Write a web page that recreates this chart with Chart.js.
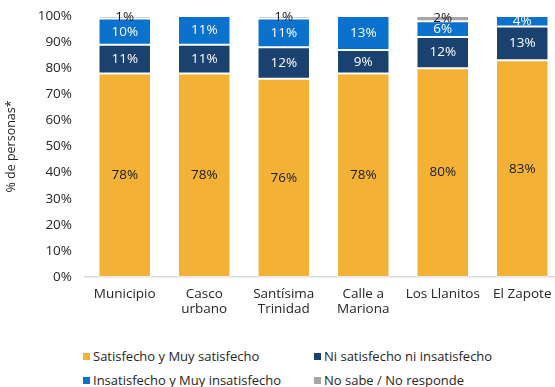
<!DOCTYPE html>
<html>
<head>
<meta charset="utf-8">
<script src="https://cdn.jsdelivr.net/npm/chart.js@4"></script>
<style>
  html, body { margin: 0; padding: 0; background: #fff; overflow: hidden; }
  #wrap { position: relative; width: 555px; height: 387px; overflow: hidden; }
  #chart { position: absolute; left: 0; top: 0; }
  #legend { position: absolute; left: 0; top: 347px; width: 555px; font-family: "Open Sans", sans-serif; font-size: 13px; color: #262626; }
  .item { position: absolute; display: flex; align-items: center; white-space: nowrap; }
  .sw { width: 7px; height: 7px; margin-right: 3px; }
</style>
</head>
<body>
<div id="wrap">
  <canvas id="chart" width="562" height="330" style="width:562px;height:330px"></canvas>
  <div id="legend"></div>
</div>
<script>
const categories = ["Municipio", ["Casco", "urbano"], ["Santísima", "Trinidad"], ["Calle a", "Mariona"], "Los Llanitos", "El Zapote"];
const satisfecho    = [78, 78, 76, 78, 80, 83];
const niNi          = [11, 11, 12, 9, 12, 13];
const insatisfecho  = [10, 11, 11, 13, 6, 4];
const noSabe        = [1, 0, 1, 0, 2, 0];
const yTicks = [0, 10, 20, 30, 40, 50, 60, 70, 80, 90, 100];

const seriesNames = ["Satisfecho y Muy satisfecho", "Ni satisfecho ni insatisfecho", "Insatisfecho y Muy insatisfecho", "No sabe / No responde"];
const colors = ["#F3B236", "#1B416F", "#0A71CD", "#A6A6A6"];
const labelColors = ["#1a1a1a", "#ffffff", "#ffffff", "#1a1a1a"];
const FONT = "'Open Sans', sans-serif";

// value labels centred in each stacked segment
const segmentLabels = {
  id: "segmentLabels",
  afterDatasetsDraw(chart) {
    const ctx = chart.ctx;
    ctx.save();
    ctx.font = "13.5px " + FONT;
    ctx.textAlign = "center";
    ctx.textBaseline = "middle";
    chart.data.datasets.forEach((ds, i) => {
      const meta = chart.getDatasetMeta(i);
      meta.data.forEach((bar, j) => {
        const v = ds.data[j];
        if (!v) return;
        ctx.fillStyle = labelColors[i];
        ctx.fillText(v + "%", bar.x, (bar.y + bar.base) / 2);
      });
    });
    ctx.restore();
  }
};

const mk = (label, data, i) => ({
  label, data,
  backgroundColor: colors[i],
  borderColor: "rgba(255,255,255,0.55)",
  borderWidth: 1,
  borderSkipped: false,
  barPercentage: 0.66,
  categoryPercentage: 1
});

new Chart(document.getElementById("chart"), {
  type: "bar",
  data: {
    labels: categories,
    datasets: [
      mk(seriesNames[0], satisfecho, 0),
      mk(seriesNames[1], niNi, 1),
      mk(seriesNames[2], insatisfecho, 2),
      mk(seriesNames[3], noSabe, 3)
    ]
  },
  options: {
    responsive: false,
    animation: false,
    layout: { padding: { top: 16, right: 0, bottom: 0, left: 0 } },
    plugins: { legend: { display: false }, tooltip: { enabled: false } },
    scales: {
      x: {
        stacked: true,
        grid: { display: false, drawTicks: false },
        border: { display: true, color: "#D9D9D9", width: 1.5 },
        ticks: { color: "#262626", font: { family: FONT, size: 13.5, lineHeight: 1.1 }, padding: 10, maxRotation: 0, autoSkip: false },
        afterFit(s) { s.height = 53; }
      },
      y: {
        stacked: true,
        min: 0, max: 100,
        afterBuildTicks(s) { s.ticks = yTicks.map(v => ({ value: v })); },
        grid: { display: false, drawTicks: true, tickLength: 6 },
        border: { display: false },
        ticks: { color: "#262626", font: { family: FONT, size: 13.5 }, padding: 7, callback: v => v + "%" },
        title: { display: true, text: "% de personas*", color: "#262626", font: { family: FONT, size: 12.5 }, padding: { top: 4, bottom: 0 } },
        afterFit(s) { s.width = 85; }
      }
    }
  },
  plugins: [segmentLabels]
});

// legend in two aligned columns
const legendPos = [[83, 0], [314, 0], [83, 24], [314, 24]];
const legendEl = document.getElementById("legend");
seriesNames.forEach((name, i) => {
  const it = document.createElement("div");
  it.className = "item";
  it.style.left = legendPos[i][0] + "px";
  it.style.top = legendPos[i][1] + "px";
  const sw = document.createElement("span");
  sw.className = "sw";
  sw.style.background = colors[i];
  const tx = document.createElement("span");
  tx.textContent = name;
  it.appendChild(sw);
  it.appendChild(tx);
  legendEl.appendChild(it);
});
</script>
</body>
</html>
